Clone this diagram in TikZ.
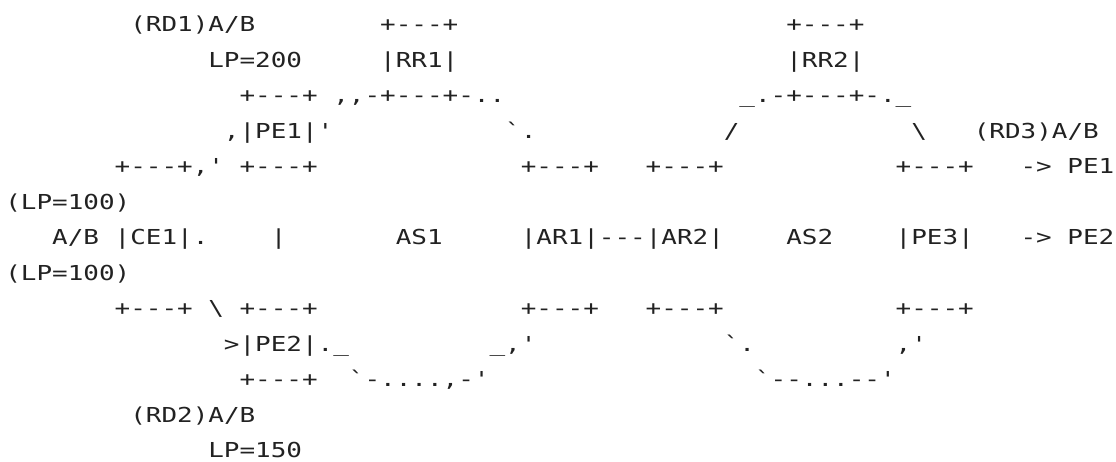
\documentclass[tikz,border=0pt]{standalone}
\usepackage{fontspec}
\setmonofont{DejaVu Sans Mono}[FakeStretch=1.26]
\definecolor{ink}{RGB}{34,34,34}
\tikzset{t/.style={anchor=base west, inner sep=0pt, outer sep=0pt, text=ink,
  font=\ttfamily\fontsize{20.6}{24}\selectfont}}
\newcommand\putt[4]{\node[t] (#1) at ({5.3+15.62*#3},{-31.7-35.5*(#2-1)}) {#4};}
\begin{document}
\begin{tikzpicture}[x=1pt,y=1pt]
\fill[white] (0,0) rectangle (1116,-462);
\useasboundingbox (0,0) rectangle (1116,-462);
% row 1
\putt{rdone}{1}{8}{(RD1)A/B}
\putt{rronetop}{1}{24}{+---+}
\putt{rrtwotop}{1}{50}{+---+}
% row 2
\putt{lptwohundred}{2}{13}{LP=200}
\putt{rrone}{2}{24}{|RR1|}
\putt{rrtwo}{2}{50}{|RR2|}
% row 3
\putt{peonetop}{3}{15}{+---+}
\putt{rronebot}{3}{21}{,,-+---+-..}
\putt{rrtwobot}{3}{47}{\_.-+---+-.\_}
% row 4
\putt{peone}{4}{14}{,|PE1|'}
\putt{curvea}{4}{32}{`.}
\putt{curveb}{4}{46}{/}
\putt{curvec}{4}{58}{\textbackslash}
\putt{rdthree}{4}{62}{(RD3)A/B}
% row 5
\putt{ceonetop}{5}{7}{+---+,'}
\putt{peonebot}{5}{15}{+---+}
\putt{aronetop}{5}{33}{+---+}
\putt{artwotop}{5}{41}{+---+}
\putt{pethreetop}{5}{57}{+---+}
\putt{arrowa}{5}{65}{->}
\putt{topeone}{5}{68}{PE1}
% row 6
\putt{lpa}{6}{0}{(LP=100)}
% row 7
\putt{ab}{7}{3}{A/B}
\putt{ceone}{7}{7}{|CE1|.}
\putt{bar}{7}{17}{|}
\putt{asone}{7}{25}{AS1}
\putt{arlink}{7}{33}{|AR1|---|AR2|}
\putt{astwo}{7}{50}{AS2}
\putt{pethree}{7}{57}{|PE3|}
\putt{arrowb}{7}{65}{->}
\putt{topetwo}{7}{68}{PE2}
% row 8
\putt{lpb}{8}{0}{(LP=100)}
% row 9
\putt{ceonebot}{9}{7}{+---+}
\putt{slash}{9}{13}{\textbackslash}
\putt{petwotop}{9}{15}{+---+}
\putt{aronebot}{9}{33}{+---+}
\putt{artwobot}{9}{41}{+---+}
\putt{pethreebot}{9}{57}{+---+}
% row 10
\putt{petwo}{10}{14}{>|PE2|.\_}
\putt{curved}{10}{31}{\_,'}
\putt{curvee}{10}{46}{`.}
\putt{curvef}{10}{57}{,'}
% row 11
\putt{petwobot}{11}{15}{+---+}
\putt{curveg}{11}{22}{`-....,-'}
\putt{curveh}{11}{48}{`--...--'}
% row 12
\putt{rdtwo}{12}{8}{(RD2)A/B}
% row 13
\putt{lponefifty}{13}{13}{LP=150}
\end{tikzpicture}
\end{document}
